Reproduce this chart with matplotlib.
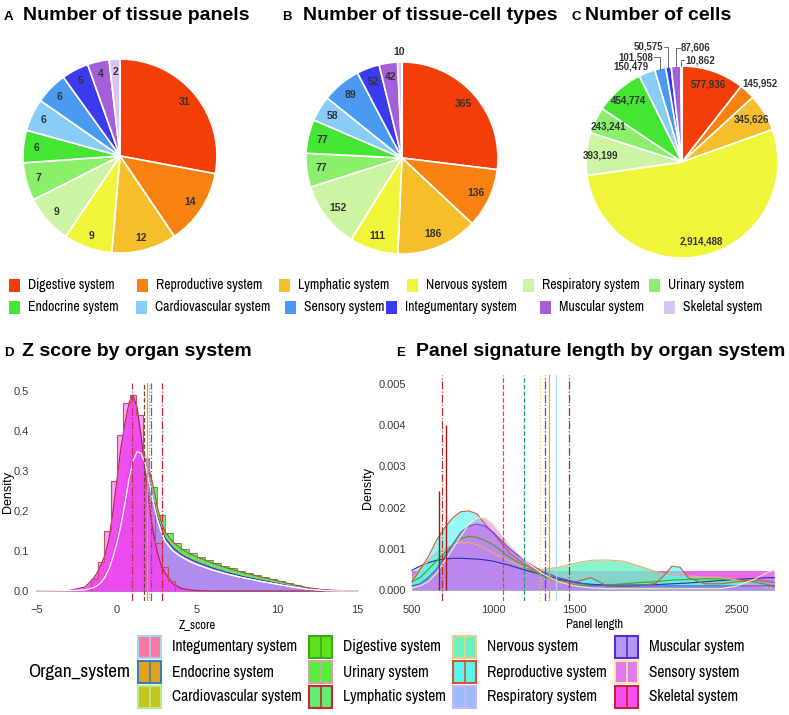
import matplotlib
matplotlib.use("Agg")
import matplotlib.pyplot as plt
from matplotlib.patches import Rectangle
from matplotlib.textpath import TextPath
from matplotlib.font_manager import FontProperties
from matplotlib import font_manager
import numpy as np

W, H = 789, 715

# ---------------------------------------------------------------------------
# Data
# ---------------------------------------------------------------------------

SYSTEMS = ["Digestive system", "Reproductive system", "Lymphatic system",
           "Nervous system", "Respiratory system", "Urinary system",
           "Endocrine system", "Cardiovascular system", "Sensory system",
           "Integumentary system", "Muscular system", "Skeletal system"]
PIE_COLORS = ["#F43E08", "#F7820F", "#F6BE2A", "#F0F53A", "#CCF5A3", "#8AF06C",
              "#45E534", "#88CDF8", "#4A9AF2", "#3A3AEE", "#A55FD8", "#D8C4F4"]

N_PANELS = [31, 14, 12, 9, 9, 7, 6, 6, 6, 5, 4, 2]
N_CELLTYPES = [365, 136, 186, 111, 152, 77, 77, 58, 89, 52, 42, 10]
N_CELLS = [577936, 145952, 345626, 2914488, 393199, 243241, 454774,
           150479, 101508, 50575, 87606, 10862]

# Panel D: z score densities
Z_X = [-5, -3, -2, -1.5, -1.25, -1, -0.75, -0.5, -0.25, 0, 0.25, 0.5, 0.75,
       1, 1.25, 1.5, 1.75, 2, 2.25, 2.5, 2.75, 3, 3.5, 4, 4.5, 5, 6, 7, 8,
       9, 10, 11, 12, 13, 14, 15]
Z_DIGESTIVE = [0, 0.001, 0.004, 0.01, 0.016, 0.025, 0.04, 0.06, 0.09, 0.12,
               0.16, 0.21, 0.26, 0.3, 0.325, 0.335, 0.33, 0.305, 0.265, 0.215,
               0.175, 0.148, 0.122, 0.106, 0.094, 0.085, 0.069, 0.056, 0.045,
               0.035, 0.026, 0.016, 0.008, 0.003, 0.001, 0]
Z_INTEGUMENTARY = [0, 0.001, 0.004, 0.01, 0.017, 0.027, 0.045, 0.07, 0.1,
                   0.14, 0.19, 0.25, 0.31, 0.36, 0.385, 0.375, 0.34, 0.29,
                   0.235, 0.19, 0.158, 0.133, 0.108, 0.092, 0.081, 0.072,
                   0.057, 0.045, 0.035, 0.027, 0.019, 0.011, 0.005, 0.002,
                   0.0005, 0]
Z_MUSCULAR = [0, 0.001, 0.004, 0.01, 0.016, 0.026, 0.043, 0.067, 0.097, 0.135,
              0.185, 0.24, 0.3, 0.345, 0.365, 0.355, 0.325, 0.28, 0.23, 0.19,
              0.158, 0.133, 0.108, 0.092, 0.081, 0.072, 0.057, 0.045, 0.035,
              0.027, 0.019, 0.011, 0.005, 0.002, 0.0005, 0]
Z_SENSORY = [0, 0.001, 0.003, 0.008, 0.013, 0.021, 0.035, 0.055, 0.085, 0.12,
             0.165, 0.22, 0.28, 0.325, 0.348, 0.345, 0.32, 0.275, 0.225,
             0.182, 0.15, 0.125, 0.1, 0.086, 0.075, 0.066, 0.052, 0.041,
             0.032, 0.024, 0.017, 0.01, 0.004, 0.001, 0, 0]
Z_SKELETAL = [0, 0.001, 0.01, 0.03, 0.045, 0.065, 0.09, 0.13, 0.2, 0.28,
              0.36, 0.42, 0.47, 0.49, 0.46, 0.39, 0.3, 0.22, 0.15, 0.1,
              0.065, 0.045, 0.018, 0.007, 0.003, 0.001, 0, 0, 0, 0, 0, 0, 0,
              0, 0, 0]

# histograms of panel D (bin edges + heights)
HIST_GREEN_EDGES = [-1.5, -1.0, -0.5, 0.0, 0.5, 1.0, 1.5, 2.0, 2.5, 3.0, 3.5,
                    4.0, 4.5, 5.0, 5.5, 6.0, 6.5, 7.0, 7.5, 8.0, 8.5, 9.0,
                    9.5, 10.0, 10.5, 11.0, 11.5, 12.0, 12.5, 13.0, 13.5]
HIST_GREEN = [0.006, 0.02, 0.06, 0.15, 0.26, 0.33, 0.33, 0.26, 0.19, 0.145,
              0.12, 0.105, 0.094, 0.085, 0.077, 0.07, 0.063, 0.057, 0.051,
              0.046, 0.041, 0.036, 0.031, 0.026, 0.021, 0.016, 0.011, 0.007,
              0.004, 0.002]
HIST_SKEL_EDGES = [-1.6, -1.2, -0.8, -0.4, 0.0, 0.4, 0.8, 1.2, 1.6, 2.0, 2.4,
                   2.8, 3.2, 3.6]
HIST_SKEL = [0.03, 0.072, 0.15, 0.275, 0.39, 0.47, 0.49, 0.44, 0.33, 0.22,
             0.12, 0.06, 0.025]
Z_MEANS = [0.92, 1.69, 1.86, 2.0, 2.1, 2.83]
Z_MEAN_COLORS = ["#C8305A", "#6B4A2A", "#F0A030", "#9FB070", "#3C6CC8",
                 "#D0203C"]
Z_MEAN_STYLES = ["-.", "--", "-", ":", "-.", "-."]

# Panel E: panel signature length densities
E_X = [500, 550, 600, 650, 700, 750, 800, 850, 900, 950, 1000, 1100, 1200,
       1300, 1400, 1500, 1600, 1700, 1800, 1900, 2000, 2050, 2100, 2150,
       2200, 2300, 2400, 2500, 2600, 2700, 2730]
E_REPRODUCTIVE = [0.0002, 0.0005, 0.0008, 0.0012, 0.0015, 0.00175, 0.0019,
                  0.00192, 0.00185, 0.0016, 0.00138, 0.0009, 0.0006, 0.0004,
                  0.00023, 0.00019, 0.0003, 0.0001, 0.00008, 0.0001, 0.00016,
                  0.00035, 0.00058, 0.00055, 0.0003, 0.00015, 0.00015,
                  0.0002, 0.00025, 0.0002, 0.00018]
E_NERVOUS = [0.0003, 0.0005, 0.0007, 0.0009, 0.001, 0.0011, 0.00115, 0.00115,
             0.0011, 0.001, 0.0009, 0.0007, 0.00055, 0.0005, 0.00055,
             0.00065, 0.00072, 0.00073, 0.0007, 0.00058, 0.00045, 0.0004,
             0.00037, 0.00035, 0.00034, 0.00032, 0.00031, 0.00024, 0.00012,
             0.00004, 0.00002]
E_DIGESTIVE = [0.0002, 0.0003, 0.0005, 0.0007, 0.0009, 0.0011, 0.00125,
               0.0013, 0.00128, 0.0012, 0.0011, 0.0008, 0.00055, 0.00035,
               0.0002, 0.00012, 0.0001, 0.00012, 0.00015, 0.00018, 0.0002,
               0.00022, 0.00024, 0.00025, 0.00026, 0.00027, 0.00027,
               0.00025, 0.0002, 0.00012, 0.0001]
E_SENSORY = [0.00005, 0.0001, 0.0002, 0.0004, 0.0007, 0.001, 0.0013, 0.0016,
             0.00174, 0.00176, 0.0016, 0.0011, 0.0007, 0.0004, 0.0002,
             0.0001, 0.00005, 0.00003, 0.00003, 0.00003, 0.00003, 0.00003,
             0.00003, 0.00003, 0.00003, 0.00003, 0.00003, 0.0001, 0.00025,
             0.00045, 0.00048]
E_MUSCULAR = [0.0001, 0.00015, 0.0003, 0.0005, 0.0008, 0.0011, 0.0014,
              0.00155, 0.0016, 0.00155, 0.0014, 0.001, 0.0007, 0.00045,
              0.0003, 0.0002, 0.00012, 0.0001, 0.0001, 0.0001, 0.0001,
              0.0001, 0.0001, 0.0001, 0.0001, 0.0001, 0.0001, 0.0001, 0.0001,
              0.0001, 0.0001]
E_INTEGUMENTARY = [0.00048, 0.00058, 0.00066, 0.00072, 0.00075, 0.00077,
                   0.00077, 0.00076, 0.00075, 0.00073, 0.0007, 0.0006,
                   0.00048, 0.00037, 0.00027, 0.00018, 0.00014, 0.00012,
                   0.00012, 0.00012, 0.00013, 0.00014, 0.00015, 0.00016,
                   0.00017, 0.0002, 0.00023, 0.00026, 0.00028, 0.0003,
                   0.0003]
E_BAND_RANGE = [500, 2730]
E_BAND_SKELETAL = 0.00045
E_BAND_MUSCULAR = 0.00025
E_SPIKES_X = [667, 708]
E_SPIKES_Y = [0.0024, 0.004]
E_MEANS = [687, 1063, 1188, 1288, 1319, 1344, 1388, 1469]
E_MEAN_COLORS = ["#B03030", "#E04848", "#20A070", "#F0D040", "#6040E0",
                 "#F0A020", "#A8D8F0", "#C82020"]
E_MEAN_STYLES = ["-.", "--", "--", ":", "-.", "-", "-", "-."]

# bottom legend (column-major order)
LEG_LABELS = ["Integumentary system", "Endocrine system",
              "Cardiovascular system", "Digestive system", "Urinary system",
              "Lymphatic system", "Nervous system", "Reproductive system",
              "Respiratory system", "Muscular system", "Sensory system",
              "Skeletal system"]
LEG_FILL = ["#F77AA6", "#E3A21A", "#C3C41E", "#5FE11C", "#55EE38", "#62EE72",
            "#6DF0BF", "#5EF3F3", "#9DBBFB", "#B497F7", "#DD7CF0", "#FB50EE"]
LEG_EDGE = ["#A9D3EE", "#3A7FC1", "#B6EE8A", "#3CA81A", "#D9A0A8", "#C8282E",
            "#F5C98C", "#D2562A", "#C7B5F5", "#5A2CC9", "#F4E6A0", "#C3213C"]

# ---------------------------------------------------------------------------
# Fonts / helpers
# ---------------------------------------------------------------------------

_NAMES = {f.name for f in font_manager.fontManager.ttflist}


def _first_font(cands, default):
    for c in cands:
        if c in _NAMES:
            return c
    return default


MAIN = _first_font(["Liberation Sans", "Arimo"], "DejaVu Sans")
NARROW = _first_font(["Liberation Sans Narrow", "Arial Narrow", "Archivo Narrow",
                      "PT Sans Narrow", "Roboto Condensed", "Pragati Narrow",
                      "Encode Sans Condensed", "Fira Sans Condensed",
                      "IBM Plex Sans Condensed"], MAIN)
plt.rcParams["font.family"] = [MAIN, "DejaVu Sans"]


def fit_size(text, family, target_px, weight="normal"):
    """font size (pt) so that text is about target_px wide at 100 dpi"""
    w = TextPath((0, 0), text, size=10,
                 prop=FontProperties(family=family, weight=weight)).get_extents().width
    return 10 * target_px / (w * 100 / 72)


def px_rect(x0, y0, x1, y1):
    return [x0 / W, 1 - y1 / H, (x1 - x0) / W, (y1 - y0) / H]


def fxy(x, y):
    return x / W, 1 - y / H


fig = plt.figure(figsize=(W / 100, H / 100), dpi=100)
fig.patch.set_facecolor("white")

# ---------------------------------------------------------------------------
# Pies
# ---------------------------------------------------------------------------

def draw_pie(cx, cy, r, values):
    ax = fig.add_axes(px_rect(cx - 1.35 * r, cy - 1.35 * r,
                              cx + 1.35 * r, cy + 1.35 * r))
    wedges, _ = ax.pie(values, colors=PIE_COLORS, startangle=90,
                       counterclock=False, radius=1.0,
                       wedgeprops=dict(edgecolor="white", linewidth=1.2))
    ax.set_xlim(-1.35, 1.35)
    ax.set_ylim(-1.35, 1.35)
    ax.set_aspect("equal")
    ax.axis("off")
    return ax, wedges


def wedge_dir(w):
    mid = np.deg2rad((w.theta1 + w.theta2) / 2)
    return np.cos(mid), np.sin(mid)


LABEL_KW = dict(fontsize=7.5, fontweight="bold", color="#333333",
                ha="center", va="center", clip_on=False)

ax_a, w_a = draw_pie(120, 156, 97, N_PANELS)
for w, v in zip(w_a, N_PANELS):
    dx, dy = wedge_dir(w)
    ax_a.text(0.87 * dx, 0.87 * dy, str(v), **LABEL_KW)

ax_b, w_b = draw_pie(402, 158, 96, N_CELLTYPES)
for i, (w, v) in enumerate(zip(w_b, N_CELLTYPES)):
    dx, dy = wedge_dir(w)
    d = 1.1 if i == len(N_CELLTYPES) - 1 else 0.85
    ax_b.text(d * dx, d * dy, str(v), **LABEL_KW)

ax_c, w_c = draw_pie(682, 162, 96, N_CELLS)
# outside labels for the thin slices: (x, y, ha) in pie units
C_OUTSIDE = {7: (-0.35, 0.99, "right"), 8: (-0.30, 1.09, "right"),
             9: (-0.20, 1.20, "right"), 10: (-0.01, 1.19, "left"),
             11: (0.03, 1.06, "left")}
c_kw = dict(LABEL_KW)
c_kw["fontsize"] = 7
for i, (w, v) in enumerate(zip(w_c, N_CELLS)):
    dx, dy = wedge_dir(w)
    txt = f"{v:,}"
    if i in C_OUTSIDE:
        x, y, ha = C_OUTSIDE[i]
        kw = dict(c_kw)
        kw["ha"] = ha
        ax_c.text(x, y, txt, **kw)
        if i >= 8:
            x0 = x + (0.01 if ha == "right" else -0.01)
            ax_c.plot([x0, dx, dx], [y, y, dy], color="#555555", lw=0.6,
                      clip_on=False)
    elif i == 1:
        ax_c.text(1.2 * dx, 1.12 * dy, txt, **c_kw)
    else:
        ax_c.text(0.85 * dx, 0.85 * dy, txt, **c_kw)

# titles
for letter, lx, tx, title, ty in [("A", 4, 23, "Number of tissue panels", 15),
                                  ("B", 282, 303, "Number of tissue-cell types", 15),
                                  ("C", 572, 585, "Number of cells", 15),
                                  ("D", 4, 22, "Z score by organ system", 351),
                                  ("E", 396, 416, "Panel signature length by organ system", 351)]:
    fig.text(*fxy(lx, ty + 2), letter, fontsize=9.5, fontweight="bold",
             va="center", ha="left")
    fig.text(*fxy(tx, ty), title, fontsize=14, fontweight="bold",
             va="center", ha="left")

# top legend (flow layout, two rows)
TOP_ROW_X = [[9, 137, 279, 407, 523, 649], [9, 136, 285, 386, 540, 664]]
TOP_ROW_Y = [285, 307]
top_size = fit_size("Reproductive system", NARROW, 104)
for row in range(2):
    for col in range(6):
        k = row * 6 + col
        x = TOP_ROW_X[row][col]
        y = TOP_ROW_Y[row]
        fig.patches.append(Rectangle(fxy(x, y + 6.5), 11 / W, 13 / H,
                                     transform=fig.transFigure,
                                     facecolor=PIE_COLORS[k], edgecolor="none"))
        fig.text(*fxy(x + 19, y), SYSTEMS[k], fontsize=top_size, family=NARROW,
                 va="center", ha="left",
                 fontweight="bold" if k == 0 else "normal")

# ---------------------------------------------------------------------------
# Panel D
# ---------------------------------------------------------------------------

TICK_COLOR = "#3a3a3a"


def style_axis(ax):
    for s in ax.spines.values():
        s.set_visible(False)
    ax.tick_params(length=0, labelsize=8, labelcolor=TICK_COLOR, pad=3)


ax_d = fig.add_axes(px_rect(33, 383, 361, 601))
style_axis(ax_d)
ax_d.set_xlim(-5.25, 15.25)
ax_d.set_ylim(-0.025, 0.52)

ax_d.stairs(HIST_GREEN, HIST_GREEN_EDGES, fill=True, color="#55E85A",
            alpha=0.85, zorder=1)
ax_d.bar(HIST_GREEN_EDGES[:-1], HIST_GREEN, width=0.5, align="edge",
         facecolor="none", edgecolor="#3B7A3B", linewidth=0.5, zorder=1.1)

for ys, fc, ec, a in [(Z_DIGESTIVE, "#5BEA5B", "#C05030", 0.8),
                      (Z_INTEGUMENTARY, "#F25C8C", "#A9D3EE", 0.85),
                      (Z_MUSCULAR, "#9F7CF2", "#3C2CB0", 0.9),
                      (Z_SENSORY, "#B7A0F5", "#FFFFFF", 0.5)]:
    ax_d.fill_between(Z_X, 0, ys, color=fc, alpha=a, lw=0, zorder=2)
    ax_d.plot(Z_X, ys, color=ec, lw=0.8, zorder=2.1)

ax_d.stairs(HIST_SKEL, HIST_SKEL_EDGES, fill=True, color="#F25CE8",
            alpha=0.55, zorder=3)
ax_d.fill_between(Z_X, 0, Z_SKELETAL, color="#EE46EE", alpha=0.9, lw=0,
                  zorder=3.1)
ax_d.plot(Z_X, Z_SKELETAL, color="#B0204A", lw=0.8, zorder=3.2)
ax_d.stairs(HIST_SKEL, HIST_SKEL_EDGES, color="#C0506E", lw=0.8, zorder=3.3)
ax_d.plot(Z_X, Z_SENSORY, color="#FFFFFF", lw=0.9, zorder=3.4)

for x, c, ls in zip(Z_MEANS, Z_MEAN_COLORS, Z_MEAN_STYLES):
    ax_d.axvline(x, color=c, ls=ls, lw=0.9, zorder=4)

ax_d.set_xticks([-5, 0, 5, 10, 15])
ax_d.set_yticks([0.0, 0.1, 0.2, 0.3, 0.4, 0.5])
ax_d.set_yticklabels(["0.0", "0.1", "0.2", "0.3", "0.4", "0.5"])
ax_d.set_xlabel("Z_score", fontsize=9, family=NARROW, labelpad=3)
ax_d.set_ylabel("Density", fontsize=9)
ax_d.yaxis.set_label_coords((14 - 33) / 328, 0.5)

# ---------------------------------------------------------------------------
# Panel E
# ---------------------------------------------------------------------------

ax_e = fig.add_axes(px_rect(410, 375, 779, 601))
style_axis(ax_e)
ax_e.set_xlim(488, 2758)
ax_e.set_ylim(-0.000267, 0.00522)

ax_e.fill_between(E_BAND_RANGE, 0, E_BAND_SKELETAL, color="#E850E8",
                  alpha=0.85, lw=0, zorder=1)
ax_e.fill_between(E_BAND_RANGE, 0, E_BAND_MUSCULAR, color="#9C6CF0",
                  alpha=0.8, lw=0, zorder=1.1)

for ys, fc, ec, a in [(E_INTEGUMENTARY, "#7FA0F0", "#2830B0", 0.35),
                      (E_DIGESTIVE, "#4CE64C", "#3CA81A", 0.7),
                      (E_NERVOUS, "#6DF0BF", "#E8B070", 0.8),
                      (E_REPRODUCTIVE, "#5EF3F3", "#C0603A", 0.65),
                      (E_MUSCULAR, "#A070F0", "#6050D0", 0.7),
                      (E_SENSORY, "#E07CF0", "#F8F0B0", 0.55)]:
    ax_e.fill_between(E_X, 0, ys, color=fc, alpha=a, lw=0, zorder=2)
    ax_e.plot(E_X, ys, color=ec, lw=0.8, zorder=2.1)

ax_e.vlines(E_SPIKES_X, 0, E_SPIKES_Y, color="#A01818", lw=1.0, zorder=3)
for x, c, ls in zip(E_MEANS, E_MEAN_COLORS, E_MEAN_STYLES):
    ax_e.axvline(x, color=c, ls=ls, lw=0.9, zorder=4)

ax_e.set_xticks([500, 1000, 1500, 2000, 2500])
ax_e.set_yticks([0, 0.001, 0.002, 0.003, 0.004, 0.005])
ax_e.set_yticklabels(["0.000", "0.001", "0.002", "0.003", "0.004", "0.005"])
ax_e.set_xlabel("Panel length", fontsize=9, family=NARROW, labelpad=3)
ax_e.set_ylabel("Density", fontsize=9)
ax_e.yaxis.set_label_coords((374 - 410) / 369, 0.5)

# ---------------------------------------------------------------------------
# Bottom legend
# ---------------------------------------------------------------------------

fig.text(*fxy(28, 672), "Organ_system", fontsize=fit_size("Organ_system", NARROW, 100),
         family=NARROW, va="center", ha="left")
COL_X = [138, 309, 453, 615]
ROW_Y = [647, 672, 697]
leg_size = fit_size("Reproductive system", NARROW, 118)
for k, lab in enumerate(LEG_LABELS):
    col, row = divmod(k, 3)
    x, y = COL_X[col], ROW_Y[row]
    fig.patches.append(Rectangle(fxy(x, y + 11), 23 / W, 22 / H,
                                 transform=fig.transFigure,
                                 facecolor=LEG_FILL[k], edgecolor=LEG_EDGE[k],
                                 linewidth=1.5))
    fig.lines.append(plt.Line2D([(x + 11.5) / W] * 2,
                                [1 - (y + 11) / H, 1 - (y - 11) / H],
                                transform=fig.transFigure,
                                color=LEG_EDGE[k], lw=1.2))
    fig.text(*fxy(x + 34, y), lab, fontsize=leg_size, family=NARROW,
             va="center", ha="left")

fig.savefig("out.png", dpi=100, facecolor="white")
